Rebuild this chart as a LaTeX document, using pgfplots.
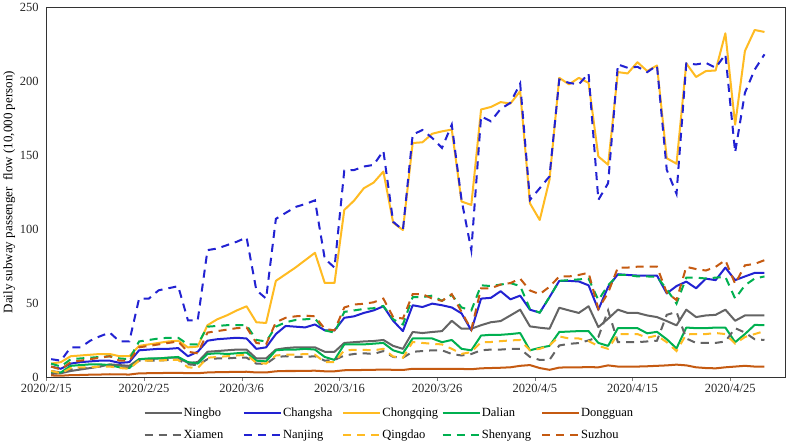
\documentclass[border=0pt]{standalone}
\usepackage{pgfplots}
\usepackage{pgfplotstable}
\pgfplotsset{compat=1.18}
\usepackage{fontspec}
\setmainfont{Liberation Serif}
\definecolor{cNingbo}{RGB}{100,100,100}
\definecolor{cChangsha}{RGB}{34,34,210}
\definecolor{cChongqing}{RGB}{255,187,34}
\definecolor{cDalian}{RGB}{0,176,80}
\definecolor{cDongguan}{RGB}{197,90,17}
\pgfplotstableread{
d Ningbo Changsha Chongqing Dalian Dongguan Xiamen Nanjing Qingdao Shenyang Suzhou
0 2 7 9 3.5 1 4 12 4 9 7
1 2.5 5.5 10 3 0.8 3 11 2.5 7 5
2 4 9 14 7.5 1.2 5 20 6 12 10
3 5 10 14.5 8 1.3 5.5 20 6.5 12.5 11
4 6 10.5 15 8.5 1.5 6.5 24.5 6.5 13 12
5 7 11 15.5 8.5 1.6 7 27.5 7 13.5 13
6 8.5 11 15.5 8 1.8 7.5 30 7 14 14
7 8 9.5 14 6.5 1.7 6.5 24 6 12.5 11
8 7.5 10 14 6 1.6 6.5 24 5.5 12 11
9 12 18 21 12 2.4 11 53 11 24 20
10 12 18.5 22 12.5 2.5 11 53 11 25 21
11 12.5 19 23 12.5 2.6 11 58.6 11 26 22
12 13 19 24 13 2.7 11.5 60 11.5 26.5 23
13 13 19.5 24.5 13.5 2.8 11.5 61.4 11.5 26.5 24
14 9.5 14 20 10 2.5 8.5 38.3 6.5 22 17
15 10 17 20.5 9 2.5 8 38.3 6 22 16
16 17 24.5 35 15.5 3 12 85.8 13 34 30
17 17.5 25.5 39 16 3.2 12.5 86.9 13.5 34.5 31
18 18 26 41.7 15.5 3.3 12.5 89.2 14 35 32
19 18.5 26.5 45 16 3.4 13 91.5 14.5 35 33
20 18.5 26 47.8 16.5 3.5 13 94.4 15 35 33.5
21 12.5 19 37 11 3 9 58.7 9.5 25 23
22 12.5 20 36.5 10.5 3 8.8 53 9 24 22
23 18.5 29 65 18 3.8 13.5 107 14.5 34 37
24 19.5 34.5 69.5 18.5 4 14 111 15 37 40
25 20 34 74 18.5 4 13.5 115 15 38.5 41
26 20 33.5 79 19 4.1 13.5 117 15.5 39 41.5
27 20 35.5 84 18.5 4.2 14 119.5 15 39.5 41
28 17 31.5 63.6 13.5 3.8 11 80 10 31.5 32.5
29 17 31.5 63.6 11.5 3.8 11.5 74 10 30 31.5
30 23 40 113 22 4.5 14.5 139.7 18 44 47
31 23.5 41 119.3 22 4.6 15.5 140 18.3 45 49
32 24 43.3 127.7 22 4.7 16 142.4 18.3 46 49.5
33 24.3 45 131.5 22.5 4.8 15.5 143.5 18 46.5 50.5
34 25 47.8 139 23 5 17.5 153 19 48 53
35 21 38 104.4 18 4.8 13.5 105 13.8 39 40.5
36 19 31 99.4 16 4.7 13 99.4 13 35.5 39.5
37 30.4 48.5 158.3 26 5.5 17 164 23.6 54 56
38 29.7 47.3 158.8 26 5.5 17.5 167.1 23 54 56
39 30.4 49.6 164.6 26 5.5 18 161.7 22.4 55 53
40 31 48.5 166.2 23.5 5.4 18 155 22 51.5 51.5
41 38 47 167.4 25 5.5 15.5 170.7 19 55.5 56
42 32.6 43 118.7 19 5.4 14.5 119.8 15.6 47 44
43 32.6 31.5 116.4 18 5.2 15.5 85.8 16.8 45 32
44 35 53 181 28 5.8 18 176.4 23.6 62 60
45 37 53.5 182.7 28.5 6 18.5 173 23.6 61.5 60
46 37.8 58 186 28.5 6.2 18.5 181.4 24.2 62.5 62.5
47 41.6 52.5 185 29 6.5 19 185.5 24.7 63.5 63.5
48 45.5 55 193.4 29.7 7.5 19 198.6 25 61.5 66.5
49 34.2 45.5 117.5 18 8 13.5 119.8 18 46 58.5
50 33.3 43.5 106.2 19.7 6 11.5 127.7 19 43.5 56
51 32.6 54 133.4 21 4.8 11.5 135.7 21.3 54 61
52 46.8 65 202.4 30.4 6.3 21.3 201.3 27.4 65 68
53 45 65 198 30.7 6.5 22.4 199 26 65.5 68
54 43.3 64.6 202.4 31 6.5 22.9 198 26 66 69
55 47.8 62 199 31 6.6 24.7 205.4 24.2 66.5 70.5
56 33.7 45.5 149.2 23 6.5 27 119.8 21 52 46
57 39.4 61 143.6 21 7.8 45 131.1 19 62 57
58 45.5 69.5 206.3 33 7 23.5 211.5 29 69 74
59 43.3 69 205.4 33 7 23.5 209.2 29 69 74
60 43.3 68.6 213 33 7 23.5 209.9 29 68 74.6
61 41.6 68.6 207 29.5 7.2 24 206.3 26.5 68 74.6
62 40.5 68.6 210.8 30.5 7.5 24.5 210.8 28 67.7 74.6
63 37.8 56.5 148 25.5 7.8 42 140.2 23.5 59.4 57
64 34.9 61.5 144.3 19.3 8.3 44 123.9 17.5 49.6 52
65 45.5 64.5 212.2 33.4 7.8 26 212.2 28.8 67.2 74.5
66 40.5 60 203 33 6.5 23 211.5 29 67.2 73
67 41.6 66.5 207 33 6 23 212.6 29 66.6 72
68 42 65.5 207.4 33.4 5.8 23 209.2 29.7 67.2 74.5
69 45.5 74 232.6 33.4 6.5 24 218.3 29 67.7 79
70 38 65.5 170.7 23.5 7 33 152 22.5 53 63
71 41.6 68 220.6 29 7.5 30 192.3 27 62 75.5
72 41.6 70.4 234.8 35.2 7 25.5 208 29 66.6 76.5
73 41.6 70.4 233.5 35 7 25 218.3 31 68 79
}\datatable
\begin{document}
\begin{tikzpicture}
\begin{axis}[
  scale only axis,
  width=736bp, height=368bp,
  xmin=-0.5, xmax=75.1,
  ymin=0, ymax=250,
  xtick={-0.5,9.5,19.5,29.5,39.5,49.5,59.5,69.5},
  xticklabels={2020/2/15,2020/2/25,2020/3/6,2020/3/16,2020/3/26,2020/4/5,2020/4/15,2020/4/25},
  ytick={0,50,100,150,200,250},
  xtick pos=bottom,
  tick align=outside,
  major tick length=4bp,
  ytick style={draw=none},
  axis line style={draw=black!80, line width=0.8bp},
  /pgf/number format/assume math mode=true,
  tick label style={font=\fontsize{12.5}{15}\selectfont, text=black!85},
  ylabel={Daily subway passenger~ flow (10,000 person)},
  ylabel style={at={(axis description cs:-0.05,0.5)}, anchor=center, font=\fontsize{13}{15}\selectfont},
  legend columns=5,
  legend style={at={(axis description cs:0.468,-0.075)}, anchor=north, draw=none,
    font=\fontsize{12.5}{15}\selectfont, row sep=10bp,
    nodes={inner sep=1bp}},
  legend image code/.code={\draw[#1] (0bp,0bp) -- (37bp,0bp);},
]
\addplot[cNingbo, line width=2bp, line join=round] table[x=d,y=Ningbo]{\datatable};
\addlegendentry{\makebox[58bp][l]{Ningbo}}
\addplot[cChangsha, line width=2bp, line join=round] table[x=d,y=Changsha]{\datatable};
\addlegendentry{\makebox[58bp][l]{Changsha}}
\addplot[cChongqing, line width=2bp, line join=round] table[x=d,y=Chongqing]{\datatable};
\addlegendentry{\makebox[58bp][l]{Chongqing}}
\addplot[cDalian, line width=2bp, line join=round] table[x=d,y=Dalian]{\datatable};
\addlegendentry{\makebox[58bp][l]{Dalian}}
\addplot[cDongguan, line width=2bp, line join=round] table[x=d,y=Dongguan]{\datatable};
\addlegendentry{\makebox[58bp][l]{Dongguan}}
\addplot[cNingbo, line width=2bp, dash pattern=on 8bp off 6bp] table[x=d,y=Xiamen]{\datatable};
\addlegendentry{\makebox[58bp][l]{Xiamen}}
\addplot[cChangsha, line width=2bp, dash pattern=on 8bp off 6bp] table[x=d,y=Nanjing]{\datatable};
\addlegendentry{\makebox[58bp][l]{Nanjing}}
\addplot[cChongqing, line width=2bp, dash pattern=on 8bp off 6bp] table[x=d,y=Qingdao]{\datatable};
\addlegendentry{\makebox[58bp][l]{Qingdao}}
\addplot[cDalian, line width=2bp, dash pattern=on 8bp off 6bp] table[x=d,y=Shenyang]{\datatable};
\addlegendentry{\makebox[58bp][l]{Shenyang}}
\addplot[cDongguan, line width=2bp, dash pattern=on 8bp off 6bp] table[x=d,y=Suzhou]{\datatable};
\addlegendentry{\makebox[58bp][l]{Suzhou}}
\end{axis}
\end{tikzpicture}
\end{document}
